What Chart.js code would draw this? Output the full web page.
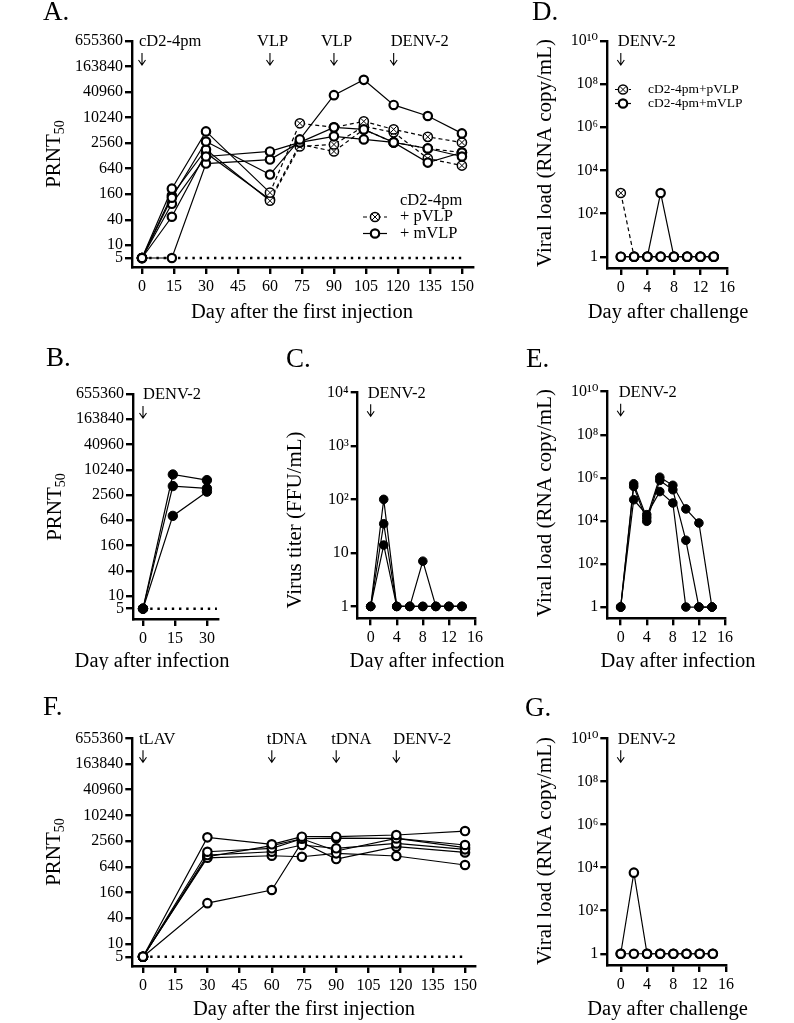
<!DOCTYPE html>
<html lang="en">
<head>
<meta charset="UTF-8" />
<title>PRNT50 and viral load</title>
<script src="https://cdn.jsdelivr.net/npm/chart.js"></script>
<style>
  html, body { margin: 0; padding: 0; background: #fff; }
  #page { position: relative; width: 794px; height: 1023px; }
  canvas { position: absolute; }
</style>
</head>
<body>
<div id="page">
  <canvas id="panelA" width="500" height="335" style="left:0px;top:0px"></canvas>
  <canvas id="panelD" width="294" height="335" style="left:500px;top:0px"></canvas>
  <canvas id="panelB" width="260" height="335" style="left:0px;top:335px"></canvas>
  <canvas id="panelC" width="250" height="335" style="left:260px;top:335px"></canvas>
  <canvas id="panelE" width="284" height="335" style="left:510px;top:335px"></canvas>
  <canvas id="panelF" width="500" height="353" style="left:0px;top:670px"></canvas>
  <canvas id="panelG" width="294" height="353" style="left:500px;top:670px"></canvas>
</div>
<script>
const SERIF = "'Liberation Serif', 'DejaVu Serif', serif";

// tick values
const prntTicks = [5, 10, 40, 160, 640, 2560, 10240, 40960, 163840, 655360];
const rnaTicks = [1, 1e2, 1e4, 1e6, 1e8, 1e10];
const ffuTicks = [1, 10, 1e2, 1e3, 1e4];
const dayTicksVax = [0, 15, 30, 45, 60, 75, 90, 105, 120, 135, 150];
const dayTicksInf = [0, 15, 30];
const dayTicksShort = [0, 4, 8, 12, 16];

// detection limit line
const lod = 5;
const lodDaysA = [0, 151.5];
const lodDaysB = [0, 34.7];
const lodDaysF = [0, 150];

// A: cD2-4pm prime, VLP boosts
const daysA = [0, 14, 30, 60, 74, 90, 104, 118, 134, 150];
const prntA_m1 = [5, 132, 2800, 465, 3130, 34600, 79600, 20350, 11180, 4340];
const prntA_m2 = [5, 95, 1240, 1630, 2660, 6030, 5400, 2660, 1915, 1240];
const prntA_m3 = [5, 5, 845, 1050, 2660, 3700, 3130, 2660, 890, 1540];
const prntA_p1 = [5, 216, 4840, 174, 7500, 6030, 8330, 5400, 3600, 2650];
const prntA_p2 = [5, 150, 1810, 112, 2140, 2380, 6350, 4590, 1110, 757];
const prntA_p3 = [5, 47, 1500, 120, 2400, 1630, 5400, 2660, 1915, 1540];

// D: viral load after challenge
const daysD = [0, 2, 4, 6, 8, 10, 12, 14];
const rnaD_p1 = [900, 1, 1, 1, 1, 1, 1, 1];
const rnaD_m1 = [1, 1, 1, 900, 1, 1, 1, 1];
const rnaD_m2 = [1, 1, 1, 1, 1, 1, 1, 1];

// B: PRNT50 after infection
const daysB = [0, 14, 30];
const prntB1 = [5, 7900, 5800];
const prntB2 = [5, 4190, 3690];
const prntB3 = [5, 815, 3080];

// C: virus titer after infection
const daysC = [0, 2, 4, 6, 8, 10, 12, 14];
const ffuC1 = [1, 100, 1, 1, 1, 1, 1, 1];
const ffuC2 = [1, 35, 1, 1, 7, 1, 1, 1];
const ffuC3 = [1, 14, 1, 1, 1, 1, 1, 1];

// E: viral load after infection
const daysE = [0, 2, 4, 6, 8, 10, 12, 14];
const rnaE1 = [1, 530000, 14000, 1070000, 450000, 36000, 8000, 1];
const rnaE2 = [1, 400000, 9600, 760000, 280000, 1260, 1, 1];
const rnaE3 = [1, 96000, 19500, 230000, 68000, 1, 1, 1];

// F: tLAV prime, tDNA boosts
const daysF = [0, 30, 60, 74, 90, 118, 150];
const prntF1 = [5, 3130, 2150, 3240, 3240, 3550, 4400];
const prntF2 = [5, 1440, 1735, 2900, 3000, 2960, 2070];
const prntF3 = [5, 1205, 1440, 2070, 1735, 2260, 1640];
const prntF4 = [5, 1040, 1160, 1100, 1320, 1145, 705];
const prntF5 = [5, 90, 183, 2400, 970, 1890, 1390];
const prntF6 = [5, 1100, 2000, 2900, 1500, 2960, 1800];

// G: viral load after challenge
const daysG = [0, 2, 4, 6, 8, 10, 12, 14];
const rnaG1 = [1, 5800, 1, 1, 1, 1, 1, 1];
const rnaG2 = [1, 1, 1, 1, 1, 1, 1, 1];

const SUP = { '0': '⁰', '1': '¹', '2': '²', '3': '³', '4': '⁴', '5': '⁵', '6': '⁶', '7': '⁷', '8': '⁸', '9': '⁹' };
function powLabel(v) {
  const e = Math.round(Math.log10(v));
  if (e === 0) return '1';
  if (e === 1) return '10';
  return '10' + String(e).split('').map(c => SUP[c]).join('');
}

// X drawn inside a circle marker
function drawCross(c, x, y) {
  const d = 3.1;
  c.beginPath();
  c.moveTo(x - d, y - d); c.lineTo(x + d, y + d);
  c.moveTo(x + d, y - d); c.lineTo(x - d, y + d);
  c.stroke();
}

function series(days, vals, kind, opts = {}) {
  const ds = {
    data: days.map((d, i) => ({ x: d, y: vals[i] })).filter(p => p.y != null),
    borderColor: '#000',
    borderWidth: 1.2,
    pointRadius: kind === 'filled' ? (opts.r || 4.5) : 4.2,
    pointBorderWidth: kind === 'filled' ? 1 : 2.2,
    pointBorderColor: '#000',
    pointBackgroundColor: kind === 'filled' ? '#000' : '#fff',
    pointStyle: 'circle',
    tension: 0
  };
  if (kind === 'crossed') {
    const openFirst = opts.openFirst || 0;
    ds.crossFrom = openFirst;
    ds.pointRadius = c => c.dataIndex < openFirst ? 4.2 : 4.6;
    ds.pointBorderWidth = c => c.dataIndex < openFirst ? 2.2 : 1.5;
    ds.segment = { borderDash: c => c.p0DataIndex >= openFirst ? [4, 3] : undefined };
  }
  return ds;
}

function lodLine(xs) {
  return {
    data: xs.map(x => ({ x: x, y: lod })),
    borderColor: '#000', borderWidth: 2.4, borderDash: [2.4, 4.8],
    pointRadius: 0
  };
}

const crossMarks = {
  id: 'crossMarks',
  afterDatasetDraw(chart, args) {
    const ds = chart.data.datasets[args.index];
    if (ds.crossFrom == null) return;
    const c = chart.ctx;
    c.save();
    c.strokeStyle = '#000';
    c.lineWidth = 1;
    args.meta.data.forEach((pt, i) => {
      if (i >= ds.crossFrom) drawCross(c, pt.x, pt.y);
    });
    c.restore();
  }
};

const panelText = {
  id: 'panelText',
  afterDraw(chart, args, o) {
    const c = chart.ctx, a = chart.chartArea, xs = chart.scales.x;
    const L = o.L, T = o.T;
    c.save();
    c.fillStyle = '#000';
    c.strokeStyle = '#000';

    c.font = '27px ' + SERIF;
    c.textAlign = 'left';
    c.textBaseline = 'alphabetic';
    c.fillText(o.letter[0], o.letter[1] - L, o.letter[2] - T);

    c.font = '20.5px ' + SERIF;
    c.textAlign = 'center';
    c.textBaseline = 'middle';
    c.fillText(o.xTitle[0], o.xTitle[1] - L, o.xTitle[2] - T);

    // y title, rotated, optional subscript
    c.save();
    c.translate(o.yTitle[1] - L, o.yTitle[2] - T);
    c.rotate(-Math.PI / 2);
    c.textAlign = 'left';
    const main = o.yTitle[0], sub = o.yTitle[3] || '';
    c.font = '21px ' + SERIF;
    const w1 = c.measureText(main).width;
    c.font = '14px ' + SERIF;
    const w2 = sub ? c.measureText(sub).width : 0;
    const x0 = -(w1 + w2) / 2;
    c.font = '21px ' + SERIF;
    c.fillText(main, x0, 0);
    if (sub) {
      c.font = '14px ' + SERIF;
      c.fillText(sub, x0 + w1, 6);
    }
    c.restore();

    // injection / challenge markers
    c.font = '16.5px ' + SERIF;
    c.textAlign = 'left';
    c.textBaseline = 'middle';
    c.lineWidth = 1.1;
    (o.events || []).forEach(([day, text, dx]) => {
      const px = xs.getPixelForValue(day);
      c.fillText(text, px + dx, a.top + 1);
      const ay0 = a.top + 12, ay1 = a.top + 24;
      c.beginPath();
      c.moveTo(px, ay0); c.lineTo(px, ay1);
      c.moveTo(px - 3.5, ay1 - 5); c.lineTo(px, ay1); c.lineTo(px + 3.5, ay1 - 5);
      c.stroke();
    });

    // legend
    if (o.legend) {
      const lg = o.legend;
      c.font = lg.size + 'px ' + SERIF;
      c.textAlign = 'left';
      c.textBaseline = 'middle';
      if (lg.title) c.fillText(lg.title[0], lg.title[1] - L, lg.title[2] - T);
      lg.items.forEach(it => {
        const y = it.y - T;
        c.lineWidth = 1.2;
        c.setLineDash(it.dash ? [4, 3] : []);
        c.beginPath(); c.moveTo(it.line[0] - L, y); c.lineTo(it.line[1] - L, y); c.stroke();
        c.setLineDash([]);
        const mx = (it.line[0] + it.line[1]) / 2 - L;
        const crossed = it.marker === 'crossed';
        c.lineWidth = crossed ? 1.5 : 2.2;
        c.fillStyle = '#fff';
        c.beginPath(); c.arc(mx, y, crossed ? 4.6 : 4.2, 0, Math.PI * 2); c.fill(); c.stroke();
        c.fillStyle = '#000';
        if (crossed) { c.lineWidth = 1; drawCross(c, mx, y); }
        c.fillText(it.text, it.x - L, y);
      });
    }
    c.restore();
  }
};

function axisStyle() {
  return {
    grid: { display: true, drawOnChartArea: false, drawTicks: true, tickLength: 7, lineWidth: 2.4, color: '#000' },
    border: { display: true, width: 2.4, color: '#000' }
  };
}

function panel(id, o) {
  const cv = document.getElementById(id);
  const L = parseFloat(cv.style.left), T = parseFloat(cv.style.top);
  const W = cv.width, H = cv.height;
  const [px0, py0, px1, py1] = o.plot;
  return new Chart(cv, {
    type: 'line',
    data: { datasets: o.datasets },
    options: {
      responsive: false,
      animation: false,
      events: [],
      layout: { padding: { left: 0, top: py0 - T, right: L + W - px1, bottom: 0 } },
      plugins: {
        legend: { display: false },
        tooltip: { enabled: false },
        panelText: Object.assign({ L: L, T: T }, o.text)
      },
      scales: {
        x: Object.assign(axisStyle(), {
          type: 'linear',
          min: o.xRange[0], max: o.xRange[1],
          afterFit: s => { s.height = T + H - py1; },
          afterBuildTicks: s => { s.ticks = o.xTicks.map(v => ({ value: v })); },
          ticks: { color: '#000', font: { family: SERIF, size: 16 }, padding: 3, autoSkip: false, maxRotation: 0 }
        }),
        y: Object.assign(axisStyle(), {
          type: 'logarithmic',
          min: o.yRange[0], max: o.yRange[1],
          afterFit: s => { s.width = px0 - L; },
          afterBuildTicks: s => { s.ticks = o.yTicks.map(v => ({ value: v })); },
          ticks: { color: '#000', font: { family: SERIF, size: 16 }, padding: 2, autoSkip: false, callback: o.yLabel }
        })
      }
    },
    plugins: [crossMarks, panelText]
  });
}

const prntLabel = v => String(v);

panel('panelA', {
  plot: [132, 41, 473, 267],
  xRange: [-4.69, 155.2], yRange: [3.07, 655360],
  xTicks: dayTicksVax, yTicks: prntTicks, yLabel: prntLabel,
  datasets: [
    series(daysA, prntA_m1, 'open'),
    series(daysA, prntA_m2, 'open'),
    series(daysA, prntA_m3, 'open'),
    series(daysA, prntA_p1, 'crossed', { openFirst: 3 }),
    series(daysA, prntA_p2, 'crossed', { openFirst: 3 }),
    series(daysA, prntA_p3, 'crossed', { openFirst: 3 }),
    lodLine(lodDaysA)
  ],
  text: {
    letter: ['A.', 43, 20],
    xTitle: ['Day after the first injection', 302, 313],
    yTitle: ['PRNT', 54, 154, '50'],
    events: [[0, 'cD2-4pm', -3], [60, 'VLP', -13], [90, 'VLP', -13], [118, 'DENV-2', -3]],
    legend: {
      size: 16.5,
      title: ['cD2-4pm', 400, 201],
      items: [
        { text: '+ pVLP', x: 400, y: 217, line: [363, 387], marker: 'crossed', dash: true },
        { text: '+ mVLP', x: 400, y: 233.5, line: [363, 387], marker: 'open', dash: false }
      ]
    }
  }
});

panel('panelD', {
  plot: [607, 41, 727, 268],
  xRange: [-2.08, 16], yRange: [0.346, 1e10],
  xTicks: dayTicksShort, yTicks: rnaTicks, yLabel: powLabel,
  datasets: [
    series(daysD, rnaD_m1, 'open'),
    series(daysD, rnaD_m2, 'open'),
    series(daysD, rnaD_p1, 'crossed', { openFirst: 0 })
  ],
  text: {
    letter: ['D.', 532, 20],
    xTitle: ['Day after challenge', 668, 313],
    yTitle: ['Viral load (RNA copy/mL)', 545, 153],
    events: [[0, 'DENV-2', -3]],
    legend: {
      size: 13.5,
      items: [
        { text: 'cD2-4pm+pVLP', x: 648, y: 89.5, line: [615, 631], marker: 'crossed', dash: true },
        { text: 'cD2-4pm+mVLP', x: 648, y: 103.5, line: [615, 631], marker: 'open', dash: false }
      ]
    }
  }
});

panel('panelB', {
  plot: [133, 394, 218, 619],
  xRange: [-4.69, 35.2], yRange: [2.84, 655360],
  xTicks: dayTicksInf, yTicks: prntTicks, yLabel: prntLabel,
  datasets: [
    series(daysB, prntB1, 'filled', { r: 4.7 }),
    series(daysB, prntB2, 'filled', { r: 4.7 }),
    series(daysB, prntB3, 'filled', { r: 4.7 }),
    lodLine(lodDaysB)
  ],
  text: {
    letter: ['B.', 46, 366],
    xTitle: ['Day after infection', 152, 662],
    yTitle: ['PRNT', 55, 507, '50'],
    events: [[0, 'DENV-2', 0]]
  }
});

panel('panelC', {
  plot: [357.7, 392.3, 475, 618.3],
  xRange: [-1.99, 16], yRange: [0.607, 1e4],
  xTicks: dayTicksShort, yTicks: ffuTicks, yLabel: powLabel,
  datasets: [
    series(daysC, ffuC1, 'filled', { r: 4.3 }),
    series(daysC, ffuC2, 'filled', { r: 4.3 }),
    series(daysC, ffuC3, 'filled', { r: 4.3 })
  ],
  text: {
    letter: ['C.', 286, 367],
    xTitle: ['Day after infection', 427, 662],
    yTitle: ['Virus titer (FFU/mL)', 295, 520],
    events: [[0, 'DENV-2', -3]]
  }
});

panel('panelE', {
  plot: [607.3, 391.7, 725, 618.3],
  xRange: [-2.05, 16], yRange: [0.323, 1e10],
  xTicks: dayTicksShort, yTicks: rnaTicks, yLabel: powLabel,
  datasets: [
    series(daysE, rnaE1, 'filled', { r: 4.3 }),
    series(daysE, rnaE2, 'filled', { r: 4.3 }),
    series(daysE, rnaE3, 'filled', { r: 4.3 })
  ],
  text: {
    letter: ['E.', 526, 367],
    xTitle: ['Day after infection', 678, 662],
    yTitle: ['Viral load (RNA copy/mL)', 545, 503],
    events: [[0, 'DENV-2', -2]]
  }
});

panel('panelF', {
  plot: [132.3, 738.3, 475, 966],
  xRange: [-4.98, 154.65], yRange: [3.03, 655360],
  xTicks: dayTicksVax, yTicks: prntTicks, yLabel: prntLabel,
  datasets: [
    series(daysF, prntF1, 'open'),
    series(daysF, prntF2, 'open'),
    series(daysF, prntF3, 'open'),
    series(daysF, prntF4, 'open'),
    series(daysF, prntF5, 'open'),
    series(daysF, prntF6, 'open'),
    lodLine(lodDaysF)
  ],
  text: {
    letter: ['F.', 43, 715],
    xTitle: ['Day after the first injection', 304, 1010],
    yTitle: ['PRNT', 54, 852, '50'],
    events: [[0, 'tLAV', -4], [60, 'tDNA', -5], [90, 'tDNA', -5], [118, 'DENV-2', -3]]
  }
});

panel('panelG', {
  plot: [607.3, 738.3, 726, 965],
  xRange: [-2.04, 16], yRange: [0.345, 1e10],
  xTicks: dayTicksShort, yTicks: rnaTicks, yLabel: powLabel,
  datasets: [
    series(daysG, rnaG1, 'open'),
    series(daysG, rnaG2, 'open')
  ],
  text: {
    letter: ['G.', 525, 716],
    xTitle: ['Day after challenge', 667.5, 1010],
    yTitle: ['Viral load (RNA copy/mL)', 545, 851],
    events: [[0, 'DENV-2', -3]]
  }
});
</script>
</body>
</html>
